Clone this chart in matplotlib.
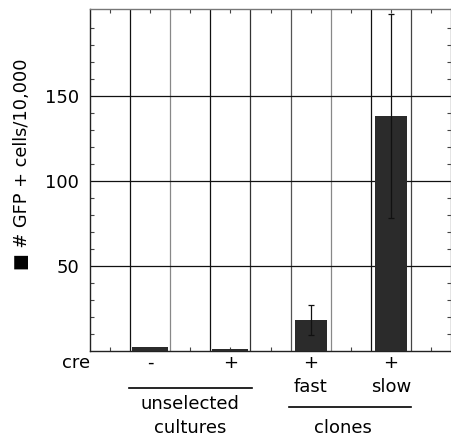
import numpy as np
import matplotlib
matplotlib.use('Agg')
import matplotlib.pyplot as plt
import matplotlib.transforms as mtransforms

# data
positions = [1.5, 3.5, 5.5, 7.5]
values = [2, 1, 18, 138]
errors = [0, 0, 9, 60]
cre_labels = ['-', '+', '+', '+']
speed_labels = ['', '', 'fast', 'slow']
yticks = [50, 100, 150]

plt.rcParams['font.family'] = ['DejaVu Sans']

fig = plt.figure(figsize=(4.52, 4.40), dpi=100)
ax = fig.add_axes([0.199, 0.203, 0.799, 0.777])

ax.set_xlim(0, 9)
ax.set_ylim(0, 201)

# grid
grid_cols = ['#111111', '#888888', '#111111', '#333333', '#555555', '#888888', '#111111', '#444444']
for k, c in enumerate(grid_cols, start=1):
    ax.axvline(k, color=c, lw=0.9, zorder=1)
for yv in yticks:
    ax.axhline(yv, color='#111111', lw=0.9, zorder=1)

ax.bar(positions[:2], values[:2], width=0.9, color='#2b2b2b', zorder=3)
ax.bar(positions[2:], values[2:], width=0.8, color='#2b2b2b', zorder=3)
for x, v, e in zip(positions, values, errors):
    if e:
        ax.errorbar(x, v, yerr=e, fmt='none', ecolor='#111111', elinewidth=0.9,
                    capsize=2.5, capthick=0.9, zorder=4)

ax.set_yticks(yticks)
ax.set_yticks(np.arange(10, 200, 10), minor=True)
ax.set_xticks([])
ax.set_xticks(np.arange(0.5, 9, 1), minor=True)
ax.tick_params(axis='y', which='major', length=0, labelsize=13, pad=8)
ax.tick_params(axis='both', which='minor', direction='in', length=3, width=0.8,
               top=True, right=True, colors='#444444')
ax.tick_params(axis='x', which='minor', labelbottom=False)

for s in ['left', 'bottom']:
    ax.spines[s].set_color('#222222')
    ax.spines[s].set_linewidth(1.0)
for s in ['top', 'right']:
    ax.spines[s].set_color('#777777')
    ax.spines[s].set_linewidth(1.0)

fig.text(0.049, 0.627, '\u25a0 # GFP + cells/10,000', rotation=90,
         ha='center', va='center', fontsize=12.8)

trans = mtransforms.blended_transform_factory(ax.transData, fig.transFigure)
ax.text(-0.35, 0.175, 'cre', transform=trans, ha='center', va='center', fontsize=13)
for x, lab in zip(positions, cre_labels):
    ax.text(x, 0.175, lab, transform=trans, ha='center', va='center', fontsize=13)
for x, lab in zip(positions, speed_labels):
    if lab:
        ax.text(x, 0.12, lab, transform=trans, ha='center', va='center', fontsize=13)

ax.plot([0.97, 4.03], [0.118, 0.118], transform=trans, color='black', lw=1.2, clip_on=False)
ax.text(2.5, 0.082, 'unselected', transform=trans, ha='center', va='center', fontsize=13)
ax.text(2.5, 0.027, 'cultures', transform=trans, ha='center', va='center', fontsize=13)
ax.plot([4.95, 8.0], [0.075, 0.075], transform=trans, color='black', lw=1.2, clip_on=False)
ax.text(6.3, 0.027, 'clones', transform=trans, ha='center', va='center', fontsize=13)

fig.savefig('out.png', dpi=100)
